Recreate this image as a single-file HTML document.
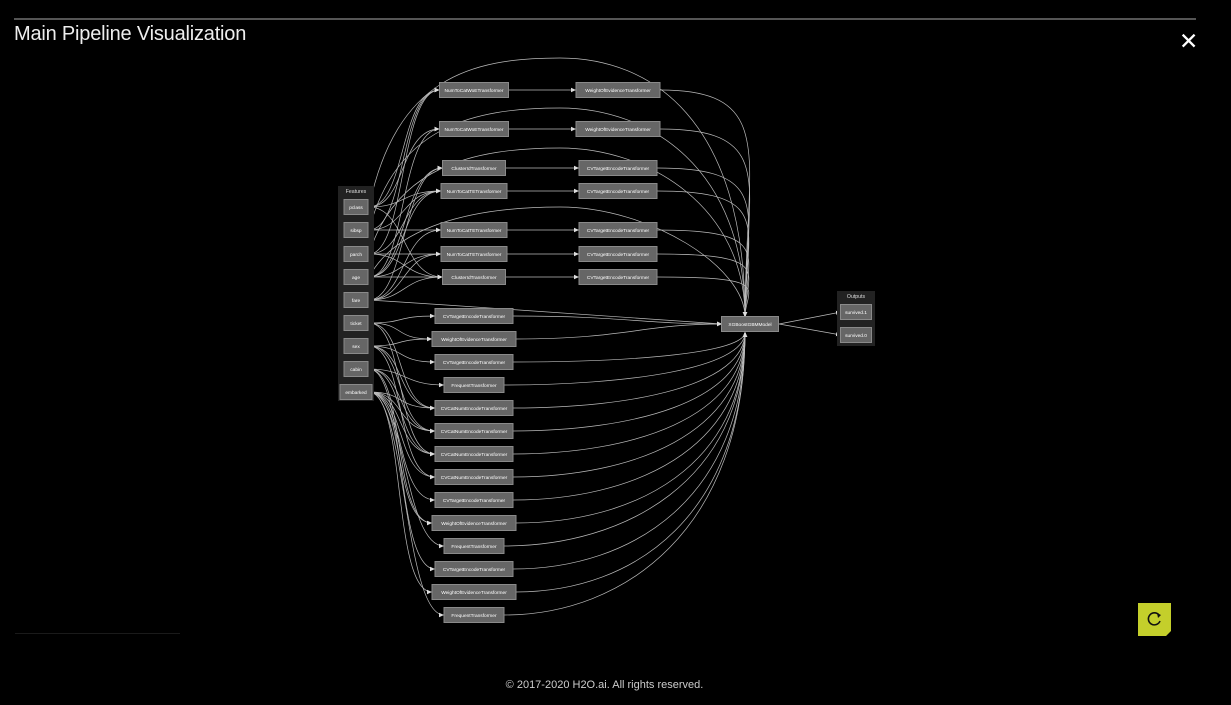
<!DOCTYPE html>
<html><head><meta charset="utf-8">
<style>
html,body{margin:0;padding:0;background:#000;width:1231px;height:705px;overflow:hidden;font-family:"Liberation Sans",sans-serif;}
#title{position:absolute;left:14px;top:23px;color:#eee;font-size:20px;letter-spacing:-0.2px;}
#topline{position:absolute;left:14px;top:18px;width:1182px;height:2px;background:#555;}
#close{position:absolute;left:1179px;top:27px;color:#fff;font-size:23px;line-height:28px;}
#footer{position:absolute;left:0;width:1209px;top:679px;text-align:center;color:#ccc;font-size:11px;}
#refresh{position:absolute;left:1138px;top:603px;width:33px;height:33px;background:#c4cf2b;clip-path:polygon(0 0,100% 0,100% 85%,85% 100%,0 100%);}
#bl{position:absolute;left:15px;top:633px;width:165px;height:1px;background:#1a1a1a;}
svg{position:absolute;left:0;top:0;}
</style></head><body>
<div id="topline"></div>
<div id="title">Main Pipeline Visualization</div>
<div id="close">✕</div>
<div id="bl"></div>
<svg id="g" width="1231" height="705"></svg>
<div id="refresh">
<svg width="33" height="33"><path d="M21 12 A6 6 0 1 0 22 18" fill="none" stroke="#111" stroke-width="1.6"/><path d="M19 10 L23 12 L20 15 Z" fill="#111"/></svg></div>
<div id="footer">© 2017-2020 H2O.ai. All rights reserved.</div>
<script>
const features=["pclass","sibsp","parch","age","fare","ticket","sex","cabin","embarked"];
const featureY=[207,230,254,277,300,323,346,369,392];
const col1Names=["NumToCatWoETransformer","NumToCatWoETransformer","ClusterIdTransformer","NumToCatTETransformer","NumToCatTETransformer","NumToCatTETransformer","ClusterIdTransformer","CVTargetEncodeTransformer","WeightOfEvidenceTransformer","CVTargetEncodeTransformer","FrequentTransformer","CVCatNumEncodeTransformer","CVCatNumEncodeTransformer","CVCatNumEncodeTransformer","CVCatNumEncodeTransformer","CVTargetEncodeTransformer","WeightOfEvidenceTransformer","FrequentTransformer","CVTargetEncodeTransformer","WeightOfEvidenceTransformer","FrequentTransformer"];
const col1Y=[90,129,168,191,230,254,277,316,339,362,385,408,431,454,477,500,523,546,569,592,615];
const col1Inputs=[[0,1,2],[0,3],[3,4],[0,1,2,3],[1,4],[2,3,4],[0,2,3,4],[5],[5,6],[6],[7],[5,6,8],[6,7,8],[5,7,8],[6,8],[8],[7,8],[8],[7],[8],[8]];
const col2Names=["WeightOfEvidenceTransformer","WeightOfEvidenceTransformer","CVTargetEncodeTransformer","CVTargetEncodeTransformer","CVTargetEncodeTransformer","CVTargetEncodeTransformer","CVTargetEncodeTransformer"];
const col2Y=[90,129,168,191,230,254,277];
const directFeatures=[0,1,2,3,4];
const directPeaks=[58,108,148,207,0];
const outputs=["survived.1","survived.0"];
const outputY=[312,335];
const svg=document.getElementById('g');const NS="http://www.w3.org/2000/svg";
function el(t,a){const e=document.createElementNS(NS,t);for(const k in a)e.setAttribute(k,a[k]);return e;}
const edges=el('g',{});svg.appendChild(edges);
const nodesG=el('g',{});svg.appendChild(nodesG);
function tw(s){return s.length*3.0+3;}
function node(cx,cy,label,w,name){
 const r=el('rect',{x:cx-w/2,y:cy-7.5,width:w,height:15,fill:'#666',stroke:'#8a8a8a','stroke-width':1});
 
 
 nodesG.appendChild(r);
 const t=el('text',{x:cx,y:cy+2,'text-anchor':'middle','font-size':4.8,fill:'#fff','font-family':'Liberation Sans, sans-serif'});
 t.textContent=label;nodesG.appendChild(t);
}
function edge(d){const p=el('path',{d:d,fill:'none',stroke:'#bbb','stroke-width':0.7,'marker-end':'url(#ar)'});
 
 
 edges.appendChild(p);}
const defs=el('defs',{});defs.innerHTML='<marker id="ar" markerWidth="6" markerHeight="6" refX="5" refY="3" orient="auto" markerUnits="userSpaceOnUse"><path d="M0,0.8 L5,3 L0,5.2 Z" fill="#ddd"/></marker>';svg.appendChild(defs);
const fb=el('rect',{x:338,y:186,width:36,height:215,fill:'#222'});nodesG.appendChild(fb);
const ft=el('text',{x:356,y:193,'text-anchor':'middle','font-size':5.2,fill:'#ddd'});ft.textContent='Features';nodesG.appendChild(ft);
const ob=el('rect',{x:837,y:291,width:38,height:55,fill:'#222'});nodesG.appendChild(ob);
const ot=el('text',{x:856,y:298,'text-anchor':'middle','font-size':5.2,fill:'#ddd'});ot.textContent='Outputs';nodesG.appendChild(ot);
const FX=356,C1=474,C2=618,MX=750;
features.forEach((f,i)=>node(FX,featureY[i],f,f==='embarked'?32:24,'feature-'+f));
function modelTarget(y){return y<300?[745,317]:(y>350?[745,332]:[722,324]);}
function toModel(sx,sy){const [tx,ty]=modelTarget(sy);
 if(tx===722)edge(`M${sx},${sy} C${sx+110},${sy} ${tx-80},${ty} ${tx},${ty}`);
 else edge(`M${sx},${sy} C${sx+120},${sy} ${tx},${sy+(ty-sy)*0.3} ${tx},${ty}`);}
col1Names.forEach((n,i)=>{const y=col1Y[i],w=tw(n);
 col1Inputs[i].forEach(fi=>{const sy=featureY[fi];
  edge(`M${FX+13},${sy} C${FX+50},${sy} ${C1-w/2-40},${y} ${C1-w/2},${y}`);});
 if(i<col2Names.length){const w2=tw(col2Names[i]);edge(`M${C1+w/2},${y} L${C2-w2/2},${col2Y[i]}`);toModel(C2+w2/2,col2Y[i]);}
 else toModel(C1+w/2,y);
 node(C1,y,n,w,'transformer-'+n.toLowerCase()+'-'+i);});
col2Names.forEach((n,i)=>node(C2,col2Y[i],n,tw(n),'transformer2-'+n.toLowerCase()+'-'+i));
directFeatures.forEach((fi,k)=>{const sy=featureY[fi],pk=directPeaks[k];
 if(pk)edge(`M${FX+13},${sy} C${FX+40},${pk+20} ${470},${pk} ${560},${pk} S${745},${pk+60} ${745},${317}`);
 else edge(`M${FX+13},${sy} C${500},${sy+8} ${650},${sy+20} ${722},${324}`);});
node(MX,324,'XGBoostGBMModel',57,'xgboost-model');
outputs.forEach((o,i)=>{edge(`M${MX+29},324 L${841},${outputY[i]}`);node(856,outputY[i],o,31,'output-'+o);});
</script>
</body></html>
